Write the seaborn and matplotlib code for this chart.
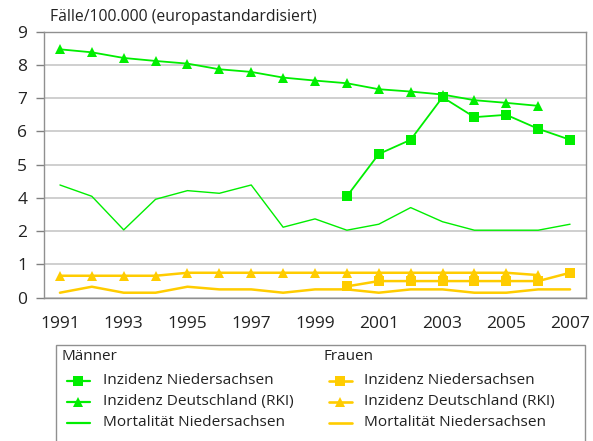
import numpy as np
import pandas as pd
import matplotlib
matplotlib.use("Agg")
import matplotlib.pyplot as plt
from matplotlib.lines import Line2D
from matplotlib.patches import Rectangle
import seaborn as sns

years_all = list(range(1991, 2008))
years_nds = list(range(2000, 2008))
years_rki = list(range(1991, 2007))

m_inz_nds = [4.05, 5.32, 5.75, 7.03, 6.43, 6.50, 6.08, 5.75]
m_inz_rki = [8.47, 8.38, 8.21, 8.12, 8.04, 7.87, 7.79, 7.62, 7.53, 7.45, 7.27, 7.20, 7.11, 6.94, 6.86, 6.77]
m_mort = [4.39, 4.05, 2.08, 3.92, 4.22, 4.14, 4.39, 2.24, 2.74, 2.06, 2.42, 3.42, 2.57, 2.06, 2.06, 2.06, 2.42]

f_inz_nds = [0.34, 0.50, 0.50, 0.50, 0.50, 0.50, 0.50, 0.75]
f_inz_rki = [0.66, 0.66, 0.66, 0.66, 0.75, 0.75, 0.75, 0.75, 0.75, 0.75, 0.75, 0.75, 0.75, 0.75, 0.75, 0.68]
f_mort = [0.15, 0.33, 0.15, 0.15, 0.33, 0.25, 0.25, 0.15, 0.25, 0.25, 0.15, 0.25, 0.25, 0.15, 0.15, 0.25, 0.25]

y_ticks = [0, 1, 2, 4, 5, 6, 7, 8, 9]
x_labels = [1991, 1993, 1995, 1997, 1999, 2001, 2003, 2005, 2007]

title = "Fälle/100.000 (europastandardisiert)"
legend_groups = ["Männer", "Frauen"]
legend_labels = ["Inzidenz Niedersachsen", "Inzidenz Deutschland (RKI)", "Mortalität Niedersachsen"]

GREEN = "#00ee00"
YELLOW = "#ffcc00"

sns.set_theme(style="white")
plt.rcParams['font.family'] = ['Open Sans', 'DejaVu Sans']

fig = plt.figure(figsize=(5.93, 4.41), dpi=100)
W, H = 593, 441
ax = fig.add_axes([44 / W, 1 - 297.7 / H, (586 - 44) / W, (297.7 - 31.7) / H])


def fwd(y):
    y = np.asarray(y, dtype=float)
    return np.where(y <= 2, y, np.where(y <= 4, 2 + (y - 2) / 2, y - 1))


def inv(p):
    p = np.asarray(p, dtype=float)
    return np.where(p <= 2, p, np.where(p <= 3, 2 + (p - 2) * 2, p + 1))


ax.set_yscale('function', functions=(fwd, inv))

series = [
    (years_nds, m_inz_nds, GREEN, 's', 1.3),
    (years_rki, m_inz_rki, GREEN, '^', 1.3),
    (years_all, m_mort, GREEN, None, 1.0),
    (years_nds, f_inz_nds, YELLOW, 's', 1.8),
    (years_rki, f_inz_rki, YELLOW, '^', 1.8),
    (years_all, f_mort, YELLOW, None, 1.8),
]
for xs, ys, col, mk, lw in series:
    df = pd.DataFrame({"x": xs, "y": ys})
    sns.lineplot(data=df, x="x", y="y", ax=ax, color=col, linewidth=lw,
                 marker=mk, markersize=7.5 if mk else 0, markeredgewidth=0,
                 markerfacecolor=col, legend=False, zorder=3)

ax.set_ylim(0, 9)
ax.set_xlim(1990.5, 2007.5)
ax.set_yticks(y_ticks)
ax.set_yticklabels([str(t) for t in y_ticks])
ax.set_xticks(x_labels)
ax.set_xticklabels([str(t) for t in x_labels])
ax.set_xticks(np.arange(1990.5, 2008, 1.0), minor=True)
ax.tick_params(axis='x', which='major', length=0, pad=13, labelsize=12.5, colors='#222222')
ax.tick_params(axis='x', which='minor', length=6, width=1, color='#808080', direction='out')
ax.tick_params(axis='y', which='major', length=6, width=1, color='#808080', direction='out',
               pad=6, labelsize=12.5, labelcolor='#222222', left=True)
ax.set_xlabel("")
ax.set_ylabel("")
ax.yaxis.grid(True, color='#cccccc', linewidth=1.3)
ax.xaxis.grid(False)
ax.set_axisbelow(True)
for s in ax.spines.values():
    s.set_visible(True)
    s.set_color('#909090')
    s.set_linewidth(1.0)

fig.text(50 / W, 1 - 17 / H, title, fontsize=11.3, va='center', ha='left', color='#222222')

# legend box
fig.add_artist(Rectangle((55.7 / W, -0.05), (585 - 55.7) / W, 0.05 + 1 - 345 / H,
                         transform=fig.transFigure, fill=False, edgecolor='#909090', linewidth=1.0))
cols = [(61.7, 66.7, 90, 102.7, GREEN, 1.6), (323.5, 328.5, 352, 364.5, YELLOW, 1.9)]
rows = [380.7, 401.7, 423]
markers = ['s', '^', None]
for gi, (hx, lx0, lx1, tx, col, lw) in enumerate(cols):
    fig.text(hx / W, 1 - 357 / H, legend_groups[gi], fontsize=11, va='center', ha='left', color='#222222')
    for ri, ry in enumerate(rows):
        yy = 1 - ry / H
        fig.add_artist(Line2D([lx0 / W, lx1 / W], [yy, yy], transform=fig.transFigure,
                              color=col, linewidth=lw))
        if markers[ri]:
            fig.add_artist(Line2D([(lx0 + lx1) / 2 / W], [yy], transform=fig.transFigure,
                                  color=col, marker=markers[ri], markersize=6.5,
                                  markeredgewidth=0, linestyle='none'))
        fig.text(tx / W, yy, legend_labels[ri], fontsize=11.1, va='center', ha='left', color='#222222')

fig.savefig("out.png", dpi=100)
